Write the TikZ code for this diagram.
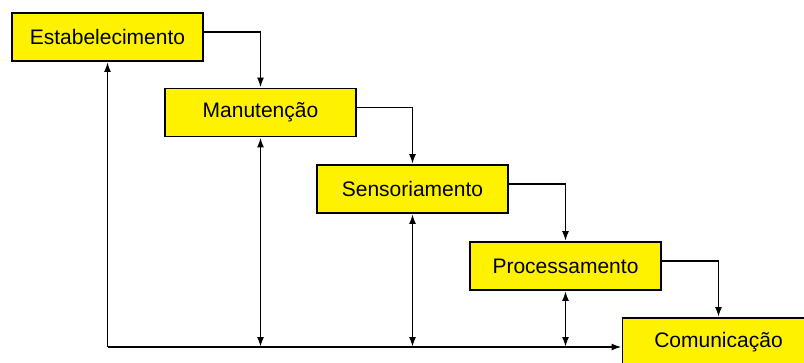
\documentclass[tikz,border=0pt]{standalone}
\usepackage{fontspec}
\setmainfont{Liberation Sans}
\usetikzlibrary{arrows.meta}
\tikzset{
  stagebox/.style={draw=black, line width=1.8pt, fill=yellow, minimum width=191pt, minimum height=48pt, inner sep=0pt, font=\fontsize{21}{24}\selectfont},
  tip/.style={Latex[length=10pt,width=7pt]},
  conn/.style={line width=1.8pt, -{Latex[length=10pt,width=7pt]}},
  dconn/.style={line width=1.8pt, {Latex[length=10pt,width=7pt]}-{Latex[length=10pt,width=7pt]}}
}
\begin{document}
\begin{tikzpicture}[x=1pt,y=-1pt]
\useasboundingbox (0,0) rectangle (804,362);
\clip (0,0) rectangle (804,362);
\fill[white] (0,0) rectangle (804,362);
\node[stagebox] (A) at (107.5,37) {Estabelecimento};
\node[stagebox] (B) at (260.5,112.5) {Manutenção};
\node[stagebox] (C) at (412.5,189) {Sensoriamento};
\node[stagebox] (D) at (565.5,266) {Processamento};
\node[stagebox, minimum width=192pt] (E) at (718.5,342) {Comunicação};
\coordinate (bl) at (107.5,347);
\draw[conn] ([yshift=5pt]A.east) -| (B.north);
\draw[conn] ([yshift=5pt]B.east) -| (C.north);
\draw[conn] ([yshift=5pt]C.east) -| (D.north);
\draw[conn] ([yshift=5pt]D.east) -| (E.north);
\draw[conn] (bl) -- (A.south);
\draw[conn] (bl) -- (E.west |- bl);
\draw[dconn] (B.south) -- (B.south |- bl);
\draw[dconn] (C.south) -- (C.south |- bl);
\draw[dconn] (D.south) -- (D.south |- bl);
\end{tikzpicture}
\end{document}
